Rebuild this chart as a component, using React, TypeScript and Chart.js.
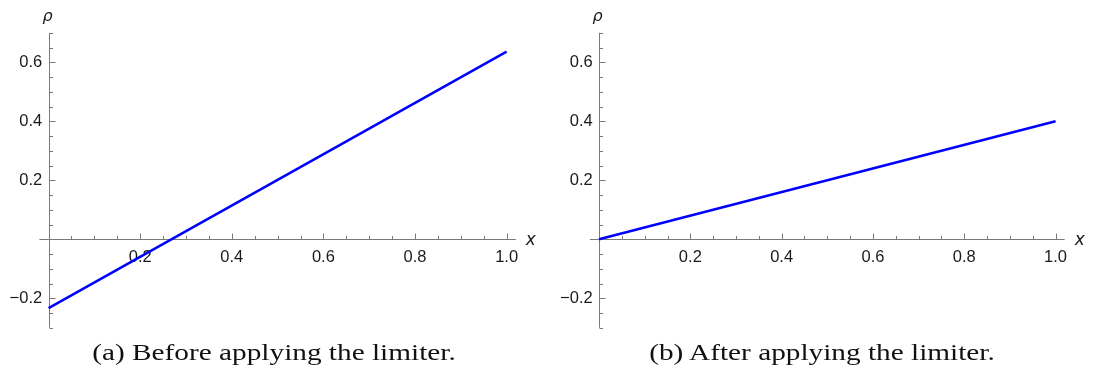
import React, { useEffect, useRef } from 'react';
import { Chart, registerables } from 'chart.js';

Chart.register(...registerables);

// Sample abscissae and the two linear reconstructions of rho
const xValues = [0, 1];
const rhoBefore = [-0.233, 0.636];
const rhoAfter = [0, 0.4];

// Labelled ticks (0 is the crossing point and is left unlabelled)
const xTickValues = [0.2, 0.4, 0.6, 0.8, 1.0];
const yTickValues = [-0.2, 0.2, 0.4, 0.6];

const captions = ['(a) Before applying the limiter.', '(b) After applying the limiter.'];

const AXIS_COLOR = '#7a7a7a';
const LABEL_COLOR = '#1a1a1a';
const LINE_COLOR = '#0000ff';
const TICK_FONT = { family: '"Liberation Sans", Arial, sans-serif', size: 16.5 };

const fmt = (v: number) => (v < 0 ? '\u2212' + Math.abs(v).toFixed(1) : v.toFixed(1));

// Mathematica-style axes crossing at the origin, with inward ticks
const crossedAxes = {
  id: 'crossedAxes',
  beforeDatasetsDraw(chart: any) {
    const { ctx, chartArea } = chart;
    const xs = chart.scales.x;
    const ys = chart.scales.y;
    const x0 = Math.round(xs.getPixelForValue(0)) + 0.5;
    const y0 = Math.round(ys.getPixelForValue(0)) + 0.5;
    ctx.save();
    ctx.strokeStyle = AXIS_COLOR;
    ctx.lineWidth = 1;
    ctx.beginPath();
    ctx.moveTo(chartArea.left, y0);
    ctx.lineTo(chartArea.right, y0);
    ctx.moveTo(x0, chartArea.top);
    ctx.lineTo(x0, chartArea.bottom);
    const step = 0.05;
    for (let i = 1; i * step <= xs.max + 1e-9; i++) {
      const px = Math.round(xs.getPixelForValue(i * step)) + 0.5;
      const len = i % 4 === 0 ? 6 : 3.5;
      ctx.moveTo(px, y0);
      ctx.lineTo(px, y0 - len);
    }
    const iMin = Math.ceil(ys.min / step - 1e-9);
    const iMax = Math.floor(ys.max / step + 1e-9);
    for (let i = iMin; i <= iMax; i++) {
      if (i === 0) continue;
      const py = Math.round(ys.getPixelForValue(i * step)) + 0.5;
      const len = i % 4 === 0 ? 6 : 3.5;
      ctx.moveTo(x0, py);
      ctx.lineTo(x0 + len, py);
    }
    ctx.stroke();

    ctx.fillStyle = LABEL_COLOR;
    ctx.textAlign = 'center';
    ctx.textBaseline = 'middle';
    ctx.font = 'italic 17px "DejaVu Sans", sans-serif';
    ctx.fillText('x', chartArea.right + 15, y0 + 1);
    ctx.font = 'italic 16px "DejaVu Sans", sans-serif';
    ctx.fillText('\u03c1', x0 - 2, chartArea.top - 16);
    ctx.restore();
  },
};

function makeConfig(values: number[], padding: any) {
  return {
    type: 'line' as const,
    data: {
      datasets: [
        {
          data: xValues.map((x, i) => ({ x, y: values[i] })),
          borderColor: LINE_COLOR,
          borderWidth: 2.5,
          pointRadius: 0,
          fill: false,
          tension: 0,
        },
      ],
    },
    options: {
      animation: false,
      responsive: false,
      layout: { padding },
      plugins: { legend: { display: false }, tooltip: { enabled: false } },
      scales: {
        x: {
          type: 'linear',
          min: -0.02,
          max: 1.02,
          position: { y: 0 },
          grid: { display: false, drawTicks: false },
          border: { display: false },
          afterBuildTicks: (s: any) => {
            s.ticks = xTickValues.map((value) => ({ value }));
          },
          ticks: {
            font: TICK_FONT,
            color: LABEL_COLOR,
            padding: 8.5,
            maxRotation: 0,
            autoSkip: false,
            callback: (v: any) => fmt(Number(v)),
          },
        },
        y: {
          type: 'linear',
          min: -0.3,
          max: 0.7,
          // labels sit just left of the vertical axis line drawn at x = 0
          position: { x: -0.014 },
          grid: { display: false, drawTicks: false },
          border: { display: false },
          afterBuildTicks: (s: any) => {
            s.ticks = yTickValues.map((value) => ({ value }));
          },
          ticks: {
            font: TICK_FONT,
            color: LABEL_COLOR,
            padding: 6,
            autoSkip: false,
            callback: (v: any) => fmt(Number(v)),
          },
        },
      },
    },
    plugins: [crossedAxes],
  };
}

function Panel({ values, padding, caption, left }: any) {
  const ref = useRef<HTMLCanvasElement>(null);
  useEffect(() => {
    const chart = new Chart(ref.current as HTMLCanvasElement, makeConfig(values, padding) as any);
    return () => chart.destroy();
  }, []);
  return (
    <div style={{ position: 'absolute', left, top: 0, width: 548, height: 370 }}>
      <canvas ref={ref} width={548} height={370} style={{ display: 'block' }} />
      <div
        style={{
          position: 'absolute',
          left: 0,
          top: 340,
          width: 548,
          textAlign: 'center',
          fontFamily: '"Liberation Serif", serif',
          fontSize: 24,
          lineHeight: '24px',
          color: '#111',
          transform: 'scaleX(1.22)',
          transformOrigin: 'center',
          whiteSpace: 'nowrap',
        }}
      >
        {caption}
      </div>
    </div>
  );
}

export default function App() {
  useEffect(() => {
    document.body.style.margin = '0';
  }, []);
  return (
    <div style={{ position: 'relative', width: 1096, height: 370, background: '#fff', overflow: 'hidden' }}>
      <Panel
        left={0}
        values={rhoBefore}
        caption={captions[0]}
        padding={{ left: 39.4, right: 32.2, top: 32.8, bottom: 42.2 }}
      />
      <Panel
        left={548}
        values={rhoAfter}
        caption={captions[1]}
        padding={{ left: 41.9, right: 31.3, top: 32.8, bottom: 42.2 }}
      />
    </div>
  );
}
